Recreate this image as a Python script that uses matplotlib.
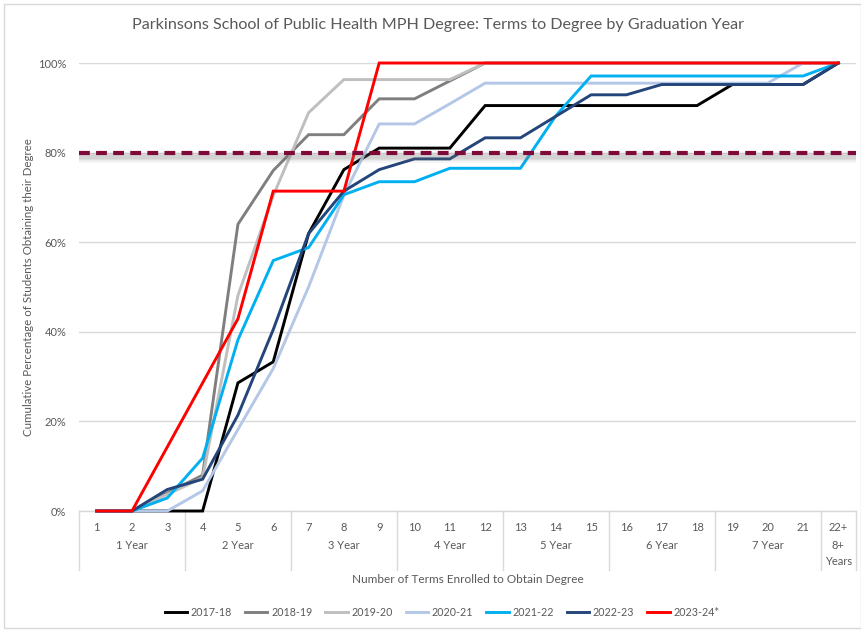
import matplotlib
matplotlib.use("Agg")
import matplotlib.pyplot as plt
import matplotlib.patheffects as pe
import matplotlib.transforms as mtransforms
from matplotlib.patches import Rectangle

plt.rcParams['font.family'] = ['Lato', 'DejaVu Sans']

TITLE = "Parkinsons School of Public Health MPH Degree: Terms to Degree by Graduation Year"
TERMS = [str(i) for i in range(1, 22)] + ["22+"]
YEAR_GROUPS = ["1 Year", "2 Year", "3 Year", "4 Year", "5 Year", "6 Year", "7 Year", "8+\nYears"]
GROUP_SIZES = [3, 3, 3, 3, 3, 3, 3, 1]
TARGET = 0.80

SERIES = ["2017-18", "2018-19", "2019-20", "2020-21", "2021-22", "2022-23", "2023-24*"]
COLORS = ["#000000", "#7F7F7F", "#BFBFBF", "#B4C7E7", "#00B0F0", "#24457A", "#FF0000"]

v_2017_18 = [0, 0, 0, 0, 28.6, 33.3, 61.9, 76.2, 81.0, 81.0, 81.0, 90.5, 90.5, 90.5, 90.5, 90.5, 90.5, 90.5, 95.2, 95.2, 95.2, 100]
v_2018_19 = [0, 0, 4.0, 8.0, 64.0, 76.0, 84.0, 84.0, 92.0, 92.0, 96.0, 100, 100, 100, 100, 100, 100, 100, 100, 100, 100, 100]
v_2019_20 = [0, 0, 3.7, 7.4, 48.1, 70.4, 88.9, 96.3, 96.3, 96.3, 96.3, 100, 100, 100, 100, 100, 100, 100, 100, 100, 100, 100]
v_2020_21 = [0, 0, 0, 4.5, 18.2, 31.8, 50.0, 70.5, 86.4, 86.4, 90.9, 95.5, 95.5, 95.5, 95.5, 95.5, 95.5, 95.5, 95.5, 95.5, 100, 100]
v_2021_22 = [0, 0, 2.9, 11.8, 38.2, 55.9, 58.8, 70.6, 73.5, 73.5, 76.5, 76.5, 76.5, 88.2, 97.1, 97.1, 97.1, 97.1, 97.1, 97.1, 97.1, 100]
v_2022_23 = [0, 0, 4.8, 7.1, 21.4, 40.5, 61.9, 71.4, 76.2, 78.6, 78.6, 83.3, 83.3, 88.1, 92.9, 92.9, 95.2, 95.2, 95.2, 95.2, 95.2, 100]
v_2023_24 = [0, 0, 14.3, 28.6, 42.9, 71.4, 71.4, 71.4, 100, 100, 100, 100, 100, 100, 100, 100, 100, 100, 100, 100, 100, 100]
VALUES = [v_2017_18, v_2018_19, v_2019_20, v_2020_21, v_2021_22, v_2022_23, v_2023_24]

TXT = "#595959"
GRID = "#D9D9D9"
W, H = 862, 630

fig = plt.figure(figsize=(W / 100, H / 100), dpi=100)
ax = fig.add_axes([79 / W, 1 - 511 / H, (856 - 79) / W, (511 - 63) / H])

x = list(range(1, len(TERMS) + 1))
for name, vals, col in zip(SERIES, VALUES, COLORS):
    ax.plot(x, [v / 100 for v in vals], color=col, lw=2.1, label=name,
            solid_joinstyle='miter', clip_on=False, zorder=3)

# soft shadow beneath the target line
shadow_layers = [pe.SimpleLineShadow(offset=(0, -3.5), shadow_color='#707070', alpha=a, linewidth=w)
                 for a, w in [(0.06, 8), (0.08, 6), (0.10, 4.5), (0.10, 3)]]
ax.axhline(TARGET, color='none', lw=3.0, zorder=3.5, path_effects=shadow_layers)
ax.axhline(TARGET, color="#7F0A3A", lw=3.0, dashes=(2.6, 1.5), zorder=4)

ax.set_xlim(0.5, len(TERMS) + 0.5)
ax.set_ylim(0, 1)
ax.set_yticks([0, 0.2, 0.4, 0.6, 0.8, 1.0])
ax.set_yticklabels(["0%", "20%", "40%", "60%", "80%", "100%"])
ax.yaxis.grid(True, color=GRID, lw=1.0)
ax.set_axisbelow(True)
ax.tick_params(axis='y', length=0, pad=9, labelsize=8, labelcolor=TXT)
ax.set_xticks(x)
ax.set_xticklabels(TERMS)
ax.tick_params(axis='x', length=0, pad=8, labelsize=8, labelcolor=TXT)
for s in ['top', 'left', 'right']:
    ax.spines[s].set_visible(False)
ax.spines['bottom'].set_color(GRID)
ax.spines['bottom'].set_linewidth(1.0)

trans = mtransforms.blended_transform_factory(ax.transData, ax.transAxes)
start = 0.5
bounds = [start]
for name, size in zip(YEAR_GROUPS, GROUP_SIZES):
    end = start + size
    ax.text((start + end) / 2, -0.065, name, transform=trans, ha='center', va='top',
            fontsize=8, color=TXT, linespacing=1.5)
    bounds.append(end)
    start = end
for b in bounds:
    ax.plot([b, b], [0, -0.132], transform=trans, color=GRID, lw=1.0, clip_on=False)

ax.text(0.5, -0.152, "Number of Terms Enrolled to Obtain Degree", transform=ax.transAxes,
        ha='center', va='center', fontsize=8.5, color=TXT)
ax.set_ylabel("Cumulative Percentage of Students Obtaining their Degree", fontsize=8.3,
              color=TXT, labelpad=3)

fig.text(0.508, 1 - 25 / H, TITLE, ha='center', va='center', fontsize=11.6, color=TXT)

fig.legend(loc='center', bbox_to_anchor=(442 / W, 1 - 612 / H), ncol=7, frameon=False,
           fontsize=7.7, handlelength=2.1, handletextpad=0.35, columnspacing=1.2,
           labelcolor=TXT)

fig.patches.append(Rectangle((4 / W, 2 / H), (857 / W), (624 / H), transform=fig.transFigure,
                             fill=False, edgecolor=GRID, lw=1.0))

fig.savefig("out.png", dpi=100)
